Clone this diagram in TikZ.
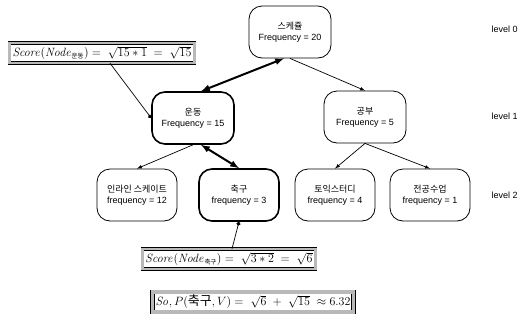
\documentclass[tikz,border=0pt]{standalone}
\usepackage[no-math]{fontspec}
\usepackage{amsmath}
\setmainfont{Liberation Sans}
\newfontfamily\kr{Noto Sans CJK KR}
\usetikzlibrary{arrows.meta}
\newcommand{\krsub}[1]{\mbox{\kr\fontsize{6.5}{7}\selectfont #1}}
\tikzset{
  tnode/.style={draw, rounded corners=13pt, line width=0.8pt, minimum width=82pt,
    minimum height=52pt, align=center, font=\fontsize{9}{11}\selectfont},
  pathnode/.style={tnode, line width=1.6pt},
  scorebox/.style={draw, double=gray!55, double distance=2.2pt, line width=0.6pt,
    inner sep=3pt, font=\fontsize{12.5}{14}\selectfont},
  lvl/.style={font=\fontsize{9}{11}\selectfont, anchor=west},
}
\begin{document}
\begin{tikzpicture}[x=1pt,y=-1pt]
    \useasboundingbox (0,0) rectangle (527,333);
    % tree
    \node[tnode] (root) at (290,32) {{\kr 스케쥴}\\Frequency = 20};
    \node[pathnode] (exer) at (193,118) {{\kr 운동}\\Frequency = 15};
    \node[tnode] (study) at (365,117) {{\kr 공부}\\Frequency = 5};
    \node[tnode, minimum width=80pt] (inline) at (137,195) {{\kr 인라인 스케이트}\\frequency = 12};
    \node[pathnode, minimum width=80pt] (soccer) at (239,195) {{\kr 축구}\\frequency = 3};
    \node[tnode, minimum width=80pt] (toeic) at (335,195) {{\kr 토익스터디}\\frequency = 4};
    \node[tnode, minimum width=80pt] (major) at (430,195) {{\kr 전공수업}\\frequency = 1};
    % levels
    \node[lvl] (l0) at (488,29) {level 0};
    \node[lvl] (l1) at (488,116) {level 1};
    \node[lvl] (l2) at (488,195) {level 2};
    % edges
    \draw[-latex, line width=0.7pt] (root.south) -- (study.north);
    \draw[-latex, line width=0.7pt] (exer.south) -- (inline.north);
    \draw[-latex, line width=0.7pt] (study.south) -- (toeic.north);
    \draw[-latex, line width=0.7pt] (study.south) -- (major.north);
    \draw[latex-latex, line width=2pt] ([xshift=-6pt]root.south) -- ([xshift=8pt]exer.north);
    \draw[latex-latex, line width=2pt] ([xshift=8pt]exer.south) -- (soccer.north);
    % scores
    \node[scorebox] (score1) at (102,53) {$\mathit{Score}(\mathit{Node}_{\krsub{운동}})=\ \sqrt{15*1}\ =\ \sqrt{15}$};
    \node[scorebox] (score2) at (229,259) {$\mathit{Score}(\mathit{Node}_{\krsub{축구}})=\ \sqrt{3*2}\ =\ \sqrt{6}$};
    \node[scorebox, double distance=3.5pt, font=\fontsize{13}{15}\selectfont] (total) at (253,302)
      {$\mathit{So}, P(\text{\kr 축구}, V)=\ \sqrt{6}\ +\ \sqrt{15}\ \approx 6.32$};
    \draw[-{Circle[length=4pt]}, line width=0.7pt] ([xshift=8pt]score1.south) -- (exer.west);
    \draw[-{Circle[length=4pt]}, line width=0.7pt] ([xshift=3pt]score2.north) -- (soccer.south);
\end{tikzpicture}
\end{document}
